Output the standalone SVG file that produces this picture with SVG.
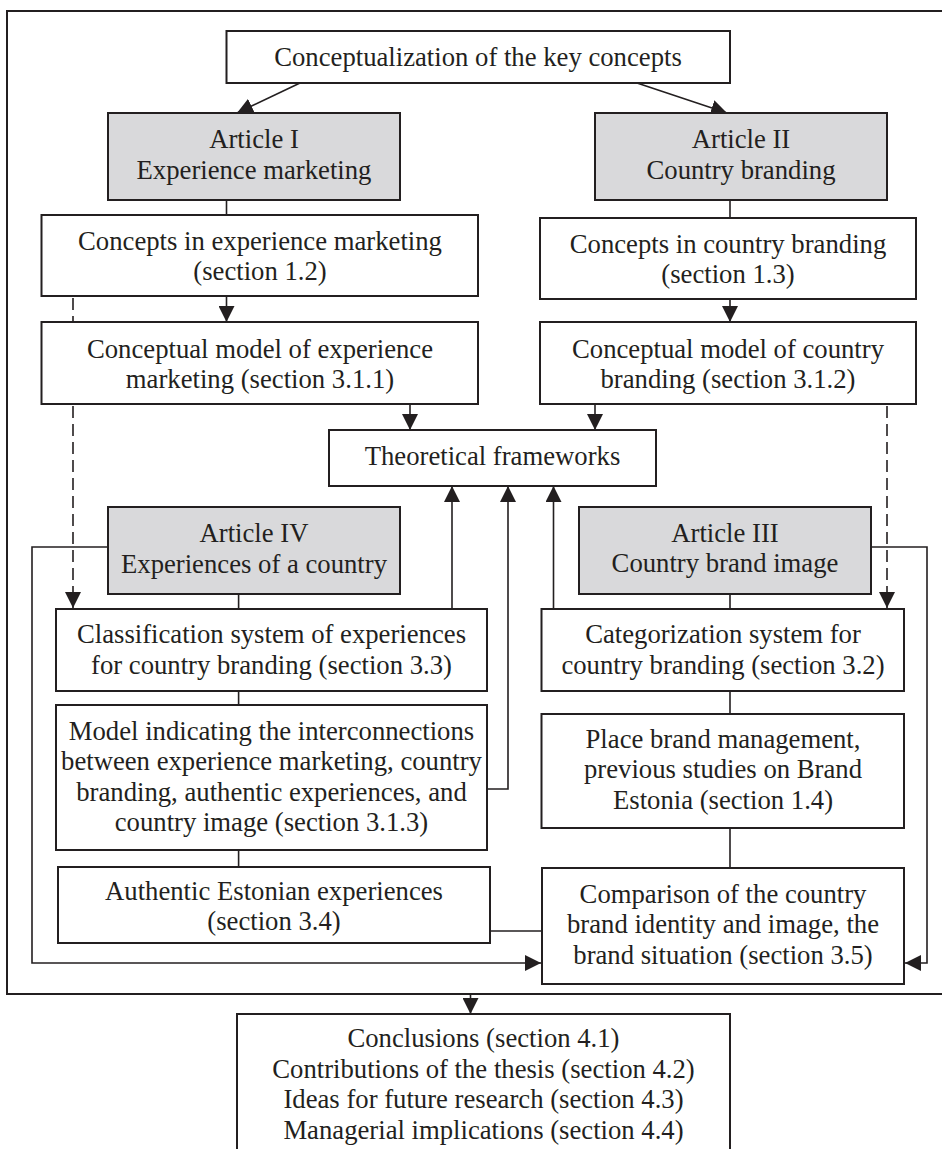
<svg xmlns="http://www.w3.org/2000/svg" width="942" height="1149" viewBox="0 0 942 1149">
<defs>
<style>
.b{fill:#fff;stroke:#231f20;stroke-width:2}
.g{fill:#d9d9db;stroke:#231f20;stroke-width:2}
.frame{fill:none;stroke:#231f20;stroke-width:2}
text{font-family:"Liberation Serif","Times New Roman",serif;font-size:26.7px;fill:#231f20;text-anchor:middle}
.c path,.c line,.c polyline{fill:none;stroke:#231f20;stroke-width:1.6}
.c .d{stroke-dasharray:12 6}
</style>
<marker id="ah" viewBox="0 0 16 16" refX="16" refY="8" markerWidth="16" markerHeight="16" markerUnits="userSpaceOnUse" orient="auto">
<path d="M0,0 L16,8 L0,16 Z" fill="#231f20"/>
</marker>
</defs>
<rect width="942" height="1149" fill="#fff"/>
<rect id="frame" class="frame" x="7" y="11" width="960" height="983"/>
<g class="c" id="connectors">
<line x1="300" y1="83" x2="237" y2="113" marker-end="url(#ah)"/>
<line x1="637" y1="83" x2="727" y2="113" marker-end="url(#ah)"/>
<line x1="226.5" y1="200" x2="226.5" y2="215"/>
<line x1="730" y1="200" x2="730" y2="218"/>
<line x1="226.5" y1="296" x2="226.5" y2="322" marker-end="url(#ah)"/>
<line x1="730" y1="299" x2="730" y2="322" marker-end="url(#ah)"/>
<line x1="410" y1="404" x2="410" y2="430" marker-end="url(#ah)"/>
<line x1="595" y1="404" x2="595" y2="430" marker-end="url(#ah)"/>
<line class="d" x1="73" y1="298" x2="73" y2="608" marker-end="url(#ah)"/>
<line class="d" x1="887" y1="406" x2="887" y2="608" marker-end="url(#ah)"/>
<line x1="452" y1="609" x2="452" y2="486" marker-end="url(#ah)"/>
<polyline points="487,789 508,789 508,486" marker-end="url(#ah)"/>
<line x1="553.5" y1="609" x2="553.5" y2="486" marker-end="url(#ah)"/>
<polyline points="108,547 32,547 32,963 541,963" marker-end="url(#ah)"/>
<polyline points="871,547 927,547 927,963 905,963" marker-end="url(#ah)"/>
<line x1="238.6" y1="594" x2="238.6" y2="609"/>
<line x1="238.6" y1="691" x2="238.6" y2="705"/>
<line x1="238.6" y1="850" x2="238.6" y2="867"/>
<line x1="730" y1="594" x2="730" y2="609"/>
<line x1="730" y1="691" x2="730" y2="714"/>
<line x1="730" y1="828" x2="730" y2="868"/>
<line x1="490" y1="931" x2="542" y2="931"/>
<line x1="470.5" y1="994" x2="470.5" y2="1014" marker-end="url(#ah)"/>
</g>
<g id="n_top"><rect class="b" x="226.5" y="31" width="503.5" height="52"/><text x="478" y="66">Conceptualization of the key concepts</text></g>
<g id="n_art1"><rect class="g" x="108" y="113" width="292" height="87"/><text x="254" y="148">Article I</text><text x="254" y="179">Experience marketing</text></g>
<g id="n_art2"><rect class="g" x="595" y="113" width="292" height="87"/><text x="741" y="148">Article II</text><text x="741" y="179">Country branding</text></g>
<g id="n_cexp"><rect class="b" x="41.5" y="215" width="436.5" height="81"/><text x="260" y="250">Concepts in experience marketing</text><text x="260" y="280">(section 1.2)</text></g>
<g id="n_ccb"><rect class="b" x="540" y="218" width="376" height="81"/><text x="728" y="253">Concepts in country branding</text><text x="728" y="283">(section 1.3)</text></g>
<g id="n_mexp"><rect class="b" x="41.5" y="322" width="436.5" height="82"/><text x="260" y="358">Conceptual model of experience</text><text x="260" y="388">marketing (section 3.1.1)</text></g>
<g id="n_mcb"><rect class="b" x="540" y="322" width="376" height="82"/><text x="728" y="358">Conceptual model of country</text><text x="728" y="388">branding (section 3.1.2)</text></g>
<g id="n_theo"><rect class="b" x="329" y="430" width="327" height="56"/><text x="492.5" y="465">Theoretical frameworks</text></g>
<g id="n_art4"><rect class="g" x="108" y="507" width="292" height="87"/><text x="254" y="542">Article IV</text><text x="254" y="573">Experiences of a country</text></g>
<g id="n_art3"><rect class="g" x="579" y="507" width="292" height="87"/><text x="725" y="542">Article III</text><text x="725" y="572">Country brand image</text></g>
<g id="n_class"><rect class="b" x="56" y="609" width="431" height="82"/><text x="271.5" y="643">Classification system of experiences</text><text x="271.5" y="674">for country branding (section 3.3)</text></g>
<g id="n_cat"><rect class="b" x="541.5" y="609" width="362.5" height="82"/><text x="723" y="643">Categorization system for</text><text x="723" y="674">country branding (section 3.2)</text></g>
<g id="n_model"><rect class="b" x="56" y="705" width="431" height="145"/><text x="271.5" y="740">Model indicating the interconnections</text><text x="271.5" y="770">between experience marketing, country</text><text x="271.5" y="801">branding, authentic experiences, and</text><text x="271.5" y="831">country image (section 3.1.3)</text></g>
<g id="n_place"><rect class="b" x="541.5" y="714" width="362.5" height="114"/><text x="723" y="748">Place brand management,</text><text x="723" y="778">previous studies on Brand</text><text x="723" y="809">Estonia (section 1.4)</text></g>
<g id="n_auth"><rect class="b" x="58" y="867" width="432" height="76"/><text x="274" y="900">Authentic Estonian experiences</text><text x="274" y="930">(section 3.4)</text></g>
<g id="n_comp"><rect class="b" x="542" y="868" width="362" height="116"/><text x="723" y="903">Comparison of the country</text><text x="723" y="933">brand identity and image, the</text><text x="723" y="964">brand situation (section 3.5)</text></g>
<g id="n_concl"><rect class="b" x="237" y="1014" width="493" height="160"/><text x="483.5" y="1047">Conclusions (section 4.1)</text><text x="483.5" y="1078">Contributions of the thesis (section 4.2)</text><text x="483.5" y="1108">Ideas for future research (section 4.3)</text><text x="483.5" y="1139">Managerial implications (section 4.4)</text></g>
</svg>
